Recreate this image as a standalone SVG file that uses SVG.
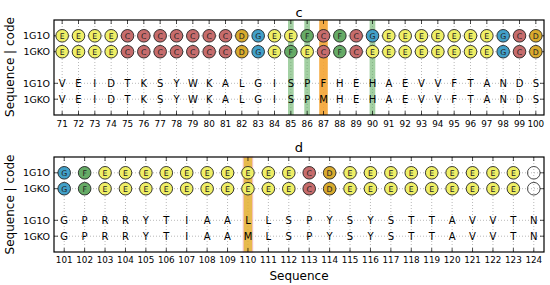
<svg xmlns="http://www.w3.org/2000/svg" width="550" height="285" viewBox="0 0 550 285">
<style>
text{font-family:"DejaVu Sans",sans-serif;fill:#000}
.t{font-size:12px;text-anchor:middle}
.ti{font-size:13px;text-anchor:middle}
.tk{font-size:8.8px;text-anchor:middle}
.yl{font-size:9.5px;text-anchor:end}
.sq{font-size:10px;text-anchor:middle}
.cl{font-size:7.8px;text-anchor:middle;fill:#222}
.grid{stroke:#8a8a8a;stroke-width:0.6;stroke-dasharray:1 2;fill:none}
.tick{stroke:#000;stroke-width:0.7;fill:none}
.spine{fill:none;stroke:#000;stroke-width:1.2}
circle{stroke:#222;stroke-width:0.9}
.E{fill:#efef66}.C{fill:#c66c6c}.D{fill:#d9ab2e}.G{fill:#42a0c8}.F{fill:#66ab66}.N{fill:none;stroke:#333}
.gb{fill:#66b066;opacity:0.6}
.ob{fill:#f4a433;opacity:0.9}
.yb{fill:#e3ae2e;opacity:0.85;stroke:#f6b7c4;stroke-width:1}
</style>

<text class="t" x="10" y="67" transform="rotate(-90 10 67)" dominant-baseline="central">Sequence | code</text>
<text class="t" x="10" y="204.5" transform="rotate(-90 10 204.5)" dominant-baseline="central">Sequence | code</text>

<!-- ============ Panel c ============ -->
<g id="panel-c">
<text class="ti" x="299" y="16.5">c</text>
<g id="c-grid" class="grid">
<path d="M62.17 20V115M78.5 20V115M94.83 20V115M111.17 20V115M127.5 20V115M143.83 20V115M160.17 20V115M176.5 20V115M192.83 20V115M209.17 20V115M225.5 20V115M241.83 20V115M258.17 20V115M274.5 20V115M290.83 20V115M307.17 20V115M323.5 20V115M339.83 20V115M356.17 20V115M372.5 20V115M388.83 20V115M405.17 20V115M421.5 20V115M437.83 20V115M454.17 20V115M470.5 20V115M486.83 20V115M503.17 20V115M519.5 20V115M535.83 20V115"/>
<path d="M54 35.8H544M54 51.7H544M54 83.3H544M54 99.2H544"/>
</g>
<g id="c-bars">
<rect class="gb" x="288" y="20" width="5.7" height="95"/>
<rect class="gb" x="304.3" y="20" width="5.7" height="95"/>
<rect class="ob" x="319.2" y="20" width="8.6" height="95"/>
<rect class="gb" x="369.6" y="20" width="5.7" height="95"/>
</g>
<g id="c-ticks" class="tick">
<path d="M62.17 20v4M78.5 20v4M94.83 20v4M111.17 20v4M127.5 20v4M143.83 20v4M160.17 20v4M176.5 20v4M192.83 20v4M209.17 20v4M225.5 20v4M241.83 20v4M258.17 20v4M274.5 20v4M290.83 20v4M307.17 20v4M323.5 20v4M339.83 20v4M356.17 20v4M372.5 20v4M388.83 20v4M405.17 20v4M421.5 20v4M437.83 20v4M454.17 20v4M470.5 20v4M486.83 20v4M503.17 20v4M519.5 20v4M535.83 20v4"/>
<path d="M62.17 115v-4M78.5 115v-4M94.83 115v-4M111.17 115v-4M127.5 115v-4M143.83 115v-4M160.17 115v-4M176.5 115v-4M192.83 115v-4M209.17 115v-4M225.5 115v-4M241.83 115v-4M258.17 115v-4M274.5 115v-4M290.83 115v-4M307.17 115v-4M323.5 115v-4M339.83 115v-4M356.17 115v-4M372.5 115v-4M388.83 115v-4M405.17 115v-4M421.5 115v-4M437.83 115v-4M454.17 115v-4M470.5 115v-4M486.83 115v-4M503.17 115v-4M519.5 115v-4M535.83 115v-4"/>
<path d="M54 35.8h4M54 51.7h4M54 83.3h4M54 99.2h4M544 35.8h-4M544 51.7h-4M544 83.3h-4M544 99.2h-4"/>
</g>
<g id="c-ss-1G1O">
<circle class="E" cx="62.17" cy="35.8" r="6.3"/><text class="cl" x="62.17" y="38.6">E</text>
<circle class="E" cx="78.5" cy="35.8" r="6.3"/><text class="cl" x="78.5" y="38.6">E</text>
<circle class="E" cx="94.83" cy="35.8" r="6.3"/><text class="cl" x="94.83" y="38.6">E</text>
<circle class="E" cx="111.17" cy="35.8" r="6.3"/><text class="cl" x="111.17" y="38.6">E</text>
<circle class="C" cx="127.5" cy="35.8" r="6.3"/><text class="cl" x="127.5" y="38.6">C</text>
<circle class="C" cx="143.83" cy="35.8" r="6.3"/><text class="cl" x="143.83" y="38.6">C</text>
<circle class="C" cx="160.17" cy="35.8" r="6.3"/><text class="cl" x="160.17" y="38.6">C</text>
<circle class="C" cx="176.5" cy="35.8" r="6.3"/><text class="cl" x="176.5" y="38.6">C</text>
<circle class="C" cx="192.83" cy="35.8" r="6.3"/><text class="cl" x="192.83" y="38.6">C</text>
<circle class="C" cx="209.17" cy="35.8" r="6.3"/><text class="cl" x="209.17" y="38.6">C</text>
<circle class="C" cx="225.5" cy="35.8" r="6.3"/><text class="cl" x="225.5" y="38.6">C</text>
<circle class="D" cx="241.83" cy="35.8" r="6.3"/><text class="cl" x="241.83" y="38.6">D</text>
<circle class="G" cx="258.17" cy="35.8" r="6.3"/><text class="cl" x="258.17" y="38.6">G</text>
<circle class="E" cx="274.5" cy="35.8" r="6.3"/><text class="cl" x="274.5" y="38.6">E</text>
<circle class="E" cx="290.83" cy="35.8" r="6.3"/><text class="cl" x="290.83" y="38.6">E</text>
<circle class="F" cx="307.17" cy="35.8" r="6.3"/><text class="cl" x="307.17" y="38.6">F</text>
<circle class="C" cx="323.5" cy="35.8" r="6.3"/><text class="cl" x="323.5" y="38.6">C</text>
<circle class="F" cx="339.83" cy="35.8" r="6.3"/><text class="cl" x="339.83" y="38.6">F</text>
<circle class="C" cx="356.17" cy="35.8" r="6.3"/><text class="cl" x="356.17" y="38.6">C</text>
<circle class="G" cx="372.5" cy="35.8" r="6.3"/><text class="cl" x="372.5" y="38.6">G</text>
<circle class="E" cx="388.83" cy="35.8" r="6.3"/><text class="cl" x="388.83" y="38.6">E</text>
<circle class="E" cx="405.17" cy="35.8" r="6.3"/><text class="cl" x="405.17" y="38.6">E</text>
<circle class="E" cx="421.5" cy="35.8" r="6.3"/><text class="cl" x="421.5" y="38.6">E</text>
<circle class="E" cx="437.83" cy="35.8" r="6.3"/><text class="cl" x="437.83" y="38.6">E</text>
<circle class="E" cx="454.17" cy="35.8" r="6.3"/><text class="cl" x="454.17" y="38.6">E</text>
<circle class="E" cx="470.5" cy="35.8" r="6.3"/><text class="cl" x="470.5" y="38.6">E</text>
<circle class="E" cx="486.83" cy="35.8" r="6.3"/><text class="cl" x="486.83" y="38.6">E</text>
<circle class="G" cx="503.17" cy="35.8" r="6.3"/><text class="cl" x="503.17" y="38.6">G</text>
<circle class="C" cx="519.5" cy="35.8" r="6.3"/><text class="cl" x="519.5" y="38.6">C</text>
<circle class="D" cx="535.83" cy="35.8" r="6.3"/><text class="cl" x="535.83" y="38.6">D</text>
</g>
<g id="c-ss-1GKO">
<circle class="E" cx="62.17" cy="51.7" r="6.3"/><text class="cl" x="62.17" y="54.5">E</text>
<circle class="E" cx="78.5" cy="51.7" r="6.3"/><text class="cl" x="78.5" y="54.5">E</text>
<circle class="E" cx="94.83" cy="51.7" r="6.3"/><text class="cl" x="94.83" y="54.5">E</text>
<circle class="E" cx="111.17" cy="51.7" r="6.3"/><text class="cl" x="111.17" y="54.5">E</text>
<circle class="C" cx="127.5" cy="51.7" r="6.3"/><text class="cl" x="127.5" y="54.5">C</text>
<circle class="C" cx="143.83" cy="51.7" r="6.3"/><text class="cl" x="143.83" y="54.5">C</text>
<circle class="C" cx="160.17" cy="51.7" r="6.3"/><text class="cl" x="160.17" y="54.5">C</text>
<circle class="C" cx="176.5" cy="51.7" r="6.3"/><text class="cl" x="176.5" y="54.5">C</text>
<circle class="C" cx="192.83" cy="51.7" r="6.3"/><text class="cl" x="192.83" y="54.5">C</text>
<circle class="C" cx="209.17" cy="51.7" r="6.3"/><text class="cl" x="209.17" y="54.5">C</text>
<circle class="C" cx="225.5" cy="51.7" r="6.3"/><text class="cl" x="225.5" y="54.5">C</text>
<circle class="D" cx="241.83" cy="51.7" r="6.3"/><text class="cl" x="241.83" y="54.5">D</text>
<circle class="G" cx="258.17" cy="51.7" r="6.3"/><text class="cl" x="258.17" y="54.5">G</text>
<circle class="E" cx="274.5" cy="51.7" r="6.3"/><text class="cl" x="274.5" y="54.5">E</text>
<circle class="F" cx="290.83" cy="51.7" r="6.3"/><text class="cl" x="290.83" y="54.5">F</text>
<circle class="E" cx="307.17" cy="51.7" r="6.3"/><text class="cl" x="307.17" y="54.5">E</text>
<circle class="C" cx="323.5" cy="51.7" r="6.3"/><text class="cl" x="323.5" y="54.5">C</text>
<circle class="F" cx="339.83" cy="51.7" r="6.3"/><text class="cl" x="339.83" y="54.5">F</text>
<circle class="C" cx="356.17" cy="51.7" r="6.3"/><text class="cl" x="356.17" y="54.5">C</text>
<circle class="E" cx="372.5" cy="51.7" r="6.3"/><text class="cl" x="372.5" y="54.5">E</text>
<circle class="E" cx="388.83" cy="51.7" r="6.3"/><text class="cl" x="388.83" y="54.5">E</text>
<circle class="E" cx="405.17" cy="51.7" r="6.3"/><text class="cl" x="405.17" y="54.5">E</text>
<circle class="E" cx="421.5" cy="51.7" r="6.3"/><text class="cl" x="421.5" y="54.5">E</text>
<circle class="E" cx="437.83" cy="51.7" r="6.3"/><text class="cl" x="437.83" y="54.5">E</text>
<circle class="E" cx="454.17" cy="51.7" r="6.3"/><text class="cl" x="454.17" y="54.5">E</text>
<circle class="E" cx="470.5" cy="51.7" r="6.3"/><text class="cl" x="470.5" y="54.5">E</text>
<circle class="E" cx="486.83" cy="51.7" r="6.3"/><text class="cl" x="486.83" y="54.5">E</text>
<circle class="G" cx="503.17" cy="51.7" r="6.3"/><text class="cl" x="503.17" y="54.5">G</text>
<circle class="C" cx="519.5" cy="51.7" r="6.3"/><text class="cl" x="519.5" y="54.5">C</text>
<circle class="D" cx="535.83" cy="51.7" r="6.3"/><text class="cl" x="535.83" y="54.5">D</text>
</g>
<g id="c-seq-1G1O">
<text class="sq" x="62.17" y="86.9">V</text><text class="sq" x="78.5" y="86.9">E</text><text class="sq" x="94.83" y="86.9">I</text><text class="sq" x="111.17" y="86.9">D</text><text class="sq" x="127.5" y="86.9">T</text><text class="sq" x="143.83" y="86.9">K</text><text class="sq" x="160.17" y="86.9">S</text><text class="sq" x="176.5" y="86.9">Y</text><text class="sq" x="192.83" y="86.9">W</text><text class="sq" x="209.17" y="86.9">K</text><text class="sq" x="225.5" y="86.9">A</text><text class="sq" x="241.83" y="86.9">L</text><text class="sq" x="258.17" y="86.9">G</text><text class="sq" x="274.5" y="86.9">I</text><text class="sq" x="290.83" y="86.9">S</text><text class="sq" x="307.17" y="86.9">P</text><text class="sq" x="323.5" y="86.9">F</text><text class="sq" x="339.83" y="86.9">H</text><text class="sq" x="356.17" y="86.9">E</text><text class="sq" x="372.5" y="86.9">H</text><text class="sq" x="388.83" y="86.9">A</text><text class="sq" x="405.17" y="86.9">E</text><text class="sq" x="421.5" y="86.9">V</text><text class="sq" x="437.83" y="86.9">V</text><text class="sq" x="454.17" y="86.9">F</text><text class="sq" x="470.5" y="86.9">T</text><text class="sq" x="486.83" y="86.9">A</text><text class="sq" x="503.17" y="86.9">N</text><text class="sq" x="519.5" y="86.9">D</text><text class="sq" x="535.83" y="86.9">S</text>
</g>
<g id="c-seq-1GKO">
<text class="sq" x="62.17" y="102.8">V</text><text class="sq" x="78.5" y="102.8">E</text><text class="sq" x="94.83" y="102.8">I</text><text class="sq" x="111.17" y="102.8">D</text><text class="sq" x="127.5" y="102.8">T</text><text class="sq" x="143.83" y="102.8">K</text><text class="sq" x="160.17" y="102.8">S</text><text class="sq" x="176.5" y="102.8">Y</text><text class="sq" x="192.83" y="102.8">W</text><text class="sq" x="209.17" y="102.8">K</text><text class="sq" x="225.5" y="102.8">A</text><text class="sq" x="241.83" y="102.8">L</text><text class="sq" x="258.17" y="102.8">G</text><text class="sq" x="274.5" y="102.8">I</text><text class="sq" x="290.83" y="102.8">S</text><text class="sq" x="307.17" y="102.8">P</text><text class="sq" x="323.5" y="102.8">M</text><text class="sq" x="339.83" y="102.8">H</text><text class="sq" x="356.17" y="102.8">E</text><text class="sq" x="372.5" y="102.8">H</text><text class="sq" x="388.83" y="102.8">A</text><text class="sq" x="405.17" y="102.8">E</text><text class="sq" x="421.5" y="102.8">V</text><text class="sq" x="437.83" y="102.8">V</text><text class="sq" x="454.17" y="102.8">F</text><text class="sq" x="470.5" y="102.8">T</text><text class="sq" x="486.83" y="102.8">A</text><text class="sq" x="503.17" y="102.8">N</text><text class="sq" x="519.5" y="102.8">D</text><text class="sq" x="535.83" y="102.8">S</text>
</g>
<rect class="spine" x="54" y="20" width="490" height="95"/>
<g id="c-ylabels">
<text class="yl" x="50" y="39.3">1G1O</text><text class="yl" x="50" y="55.2">1GKO</text><text class="yl" x="50" y="86.8">1G1O</text><text class="yl" x="50" y="102.7">1GKO</text>
</g>
<g id="c-xlabels">
<text class="tk" x="62.17" y="127">71</text><text class="tk" x="78.5" y="127">72</text><text class="tk" x="94.83" y="127">73</text><text class="tk" x="111.17" y="127">74</text><text class="tk" x="127.5" y="127">75</text><text class="tk" x="143.83" y="127">76</text><text class="tk" x="160.17" y="127">77</text><text class="tk" x="176.5" y="127">78</text><text class="tk" x="192.83" y="127">79</text><text class="tk" x="209.17" y="127">80</text><text class="tk" x="225.5" y="127">81</text><text class="tk" x="241.83" y="127">82</text><text class="tk" x="258.17" y="127">83</text><text class="tk" x="274.5" y="127">84</text><text class="tk" x="290.83" y="127">85</text><text class="tk" x="307.17" y="127">86</text><text class="tk" x="323.5" y="127">87</text><text class="tk" x="339.83" y="127">88</text><text class="tk" x="356.17" y="127">89</text><text class="tk" x="372.5" y="127">90</text><text class="tk" x="388.83" y="127">91</text><text class="tk" x="405.17" y="127">92</text><text class="tk" x="421.5" y="127">93</text><text class="tk" x="437.83" y="127">94</text><text class="tk" x="454.17" y="127">95</text><text class="tk" x="470.5" y="127">96</text><text class="tk" x="486.83" y="127">97</text><text class="tk" x="503.17" y="127">98</text><text class="tk" x="519.5" y="127">99</text><text class="tk" x="535.83" y="127">100</text>
</g>
</g>

<!-- ============ Panel d ============ -->
<g id="panel-d">
<text class="ti" x="299" y="151.5">d</text>
<g id="d-grid" class="grid">
<path d="M64.21 157V252M84.63 157V252M105.04 157V252M125.46 157V252M145.88 157V252M166.29 157V252M186.71 157V252M207.13 157V252M227.54 157V252M247.96 157V252M268.38 157V252M288.79 157V252M309.21 157V252M329.63 157V252M350.04 157V252M370.46 157V252M390.88 157V252M411.29 157V252M431.71 157V252M452.13 157V252M472.54 157V252M492.96 157V252M513.38 157V252M533.79 157V252"/>
<path d="M54 172.8H544M54 188.7H544M54 220.3H544M54 236.2H544"/>
</g>
<g id="d-bars">
<rect class="yb" x="243.2" y="157" width="9.5" height="95"/>
</g>
<g id="d-ticks" class="tick">
<path d="M64.21 157v4M84.63 157v4M105.04 157v4M125.46 157v4M145.88 157v4M166.29 157v4M186.71 157v4M207.13 157v4M227.54 157v4M247.96 157v4M268.38 157v4M288.79 157v4M309.21 157v4M329.63 157v4M350.04 157v4M370.46 157v4M390.88 157v4M411.29 157v4M431.71 157v4M452.13 157v4M472.54 157v4M492.96 157v4M513.38 157v4M533.79 157v4"/>
<path d="M64.21 252v-4M84.63 252v-4M105.04 252v-4M125.46 252v-4M145.88 252v-4M166.29 252v-4M186.71 252v-4M207.13 252v-4M227.54 252v-4M247.96 252v-4M268.38 252v-4M288.79 252v-4M309.21 252v-4M329.63 252v-4M350.04 252v-4M370.46 252v-4M390.88 252v-4M411.29 252v-4M431.71 252v-4M452.13 252v-4M472.54 252v-4M492.96 252v-4M513.38 252v-4M533.79 252v-4"/>
<path d="M54 172.8h4M54 188.7h4M54 220.3h4M54 236.2h4M544 172.8h-4M544 188.7h-4M544 220.3h-4M544 236.2h-4"/>
</g>
<g id="d-ss-1G1O">
<circle class="G" cx="64.21" cy="172.8" r="6.3"/><text class="cl" x="64.21" y="175.6">G</text>
<circle class="F" cx="84.63" cy="172.8" r="6.3"/><text class="cl" x="84.63" y="175.6">F</text>
<circle class="E" cx="105.04" cy="172.8" r="6.3"/><text class="cl" x="105.04" y="175.6">E</text>
<circle class="E" cx="125.46" cy="172.8" r="6.3"/><text class="cl" x="125.46" y="175.6">E</text>
<circle class="E" cx="145.88" cy="172.8" r="6.3"/><text class="cl" x="145.88" y="175.6">E</text>
<circle class="E" cx="166.29" cy="172.8" r="6.3"/><text class="cl" x="166.29" y="175.6">E</text>
<circle class="E" cx="186.71" cy="172.8" r="6.3"/><text class="cl" x="186.71" y="175.6">E</text>
<circle class="E" cx="207.13" cy="172.8" r="6.3"/><text class="cl" x="207.13" y="175.6">E</text>
<circle class="E" cx="227.54" cy="172.8" r="6.3"/><text class="cl" x="227.54" y="175.6">E</text>
<circle class="E" cx="247.96" cy="172.8" r="6.3"/><text class="cl" x="247.96" y="175.6">E</text>
<circle class="E" cx="268.38" cy="172.8" r="6.3"/><text class="cl" x="268.38" y="175.6">E</text>
<circle class="E" cx="288.79" cy="172.8" r="6.3"/><text class="cl" x="288.79" y="175.6">E</text>
<circle class="C" cx="309.21" cy="172.8" r="6.3"/><text class="cl" x="309.21" y="175.6">C</text>
<circle class="D" cx="329.63" cy="172.8" r="6.3"/><text class="cl" x="329.63" y="175.6">D</text>
<circle class="E" cx="350.04" cy="172.8" r="6.3"/><text class="cl" x="350.04" y="175.6">E</text>
<circle class="E" cx="370.46" cy="172.8" r="6.3"/><text class="cl" x="370.46" y="175.6">E</text>
<circle class="E" cx="390.88" cy="172.8" r="6.3"/><text class="cl" x="390.88" y="175.6">E</text>
<circle class="E" cx="411.29" cy="172.8" r="6.3"/><text class="cl" x="411.29" y="175.6">E</text>
<circle class="E" cx="431.71" cy="172.8" r="6.3"/><text class="cl" x="431.71" y="175.6">E</text>
<circle class="E" cx="452.13" cy="172.8" r="6.3"/><text class="cl" x="452.13" y="175.6">E</text>
<circle class="E" cx="472.54" cy="172.8" r="6.3"/><text class="cl" x="472.54" y="175.6">E</text>
<circle class="E" cx="492.96" cy="172.8" r="6.3"/><text class="cl" x="492.96" y="175.6">E</text>
<circle class="E" cx="513.38" cy="172.8" r="6.3"/><text class="cl" x="513.38" y="175.6">E</text>
<circle class="N" cx="533.79" cy="172.8" r="6.3"/>
</g>
<g id="d-ss-1GKO">
<circle class="G" cx="64.21" cy="188.7" r="6.3"/><text class="cl" x="64.21" y="191.5">G</text>
<circle class="F" cx="84.63" cy="188.7" r="6.3"/><text class="cl" x="84.63" y="191.5">F</text>
<circle class="E" cx="105.04" cy="188.7" r="6.3"/><text class="cl" x="105.04" y="191.5">E</text>
<circle class="E" cx="125.46" cy="188.7" r="6.3"/><text class="cl" x="125.46" y="191.5">E</text>
<circle class="E" cx="145.88" cy="188.7" r="6.3"/><text class="cl" x="145.88" y="191.5">E</text>
<circle class="E" cx="166.29" cy="188.7" r="6.3"/><text class="cl" x="166.29" y="191.5">E</text>
<circle class="E" cx="186.71" cy="188.7" r="6.3"/><text class="cl" x="186.71" y="191.5">E</text>
<circle class="E" cx="207.13" cy="188.7" r="6.3"/><text class="cl" x="207.13" y="191.5">E</text>
<circle class="E" cx="227.54" cy="188.7" r="6.3"/><text class="cl" x="227.54" y="191.5">E</text>
<circle class="E" cx="247.96" cy="188.7" r="6.3"/><text class="cl" x="247.96" y="191.5">E</text>
<circle class="E" cx="268.38" cy="188.7" r="6.3"/><text class="cl" x="268.38" y="191.5">E</text>
<circle class="E" cx="288.79" cy="188.7" r="6.3"/><text class="cl" x="288.79" y="191.5">E</text>
<circle class="C" cx="309.21" cy="188.7" r="6.3"/><text class="cl" x="309.21" y="191.5">C</text>
<circle class="D" cx="329.63" cy="188.7" r="6.3"/><text class="cl" x="329.63" y="191.5">D</text>
<circle class="E" cx="350.04" cy="188.7" r="6.3"/><text class="cl" x="350.04" y="191.5">E</text>
<circle class="E" cx="370.46" cy="188.7" r="6.3"/><text class="cl" x="370.46" y="191.5">E</text>
<circle class="E" cx="390.88" cy="188.7" r="6.3"/><text class="cl" x="390.88" y="191.5">E</text>
<circle class="E" cx="411.29" cy="188.7" r="6.3"/><text class="cl" x="411.29" y="191.5">E</text>
<circle class="E" cx="431.71" cy="188.7" r="6.3"/><text class="cl" x="431.71" y="191.5">E</text>
<circle class="E" cx="452.13" cy="188.7" r="6.3"/><text class="cl" x="452.13" y="191.5">E</text>
<circle class="E" cx="472.54" cy="188.7" r="6.3"/><text class="cl" x="472.54" y="191.5">E</text>
<circle class="E" cx="492.96" cy="188.7" r="6.3"/><text class="cl" x="492.96" y="191.5">E</text>
<circle class="E" cx="513.38" cy="188.7" r="6.3"/><text class="cl" x="513.38" y="191.5">E</text>
<circle class="N" cx="533.79" cy="188.7" r="6.3"/>
</g>
<g id="d-seq-1G1O">
<text class="sq" x="64.21" y="223.9">G</text><text class="sq" x="84.63" y="223.9">P</text><text class="sq" x="105.04" y="223.9">R</text><text class="sq" x="125.46" y="223.9">R</text><text class="sq" x="145.88" y="223.9">Y</text><text class="sq" x="166.29" y="223.9">T</text><text class="sq" x="186.71" y="223.9">I</text><text class="sq" x="207.13" y="223.9">A</text><text class="sq" x="227.54" y="223.9">A</text><text class="sq" x="247.96" y="223.9">L</text><text class="sq" x="268.38" y="223.9">L</text><text class="sq" x="288.79" y="223.9">S</text><text class="sq" x="309.21" y="223.9">P</text><text class="sq" x="329.63" y="223.9">Y</text><text class="sq" x="350.04" y="223.9">S</text><text class="sq" x="370.46" y="223.9">Y</text><text class="sq" x="390.88" y="223.9">S</text><text class="sq" x="411.29" y="223.9">T</text><text class="sq" x="431.71" y="223.9">T</text><text class="sq" x="452.13" y="223.9">A</text><text class="sq" x="472.54" y="223.9">V</text><text class="sq" x="492.96" y="223.9">V</text><text class="sq" x="513.38" y="223.9">T</text><text class="sq" x="533.79" y="223.9">N</text>
</g>
<g id="d-seq-1GKO">
<text class="sq" x="64.21" y="239.8">G</text><text class="sq" x="84.63" y="239.8">P</text><text class="sq" x="105.04" y="239.8">R</text><text class="sq" x="125.46" y="239.8">R</text><text class="sq" x="145.88" y="239.8">Y</text><text class="sq" x="166.29" y="239.8">T</text><text class="sq" x="186.71" y="239.8">I</text><text class="sq" x="207.13" y="239.8">A</text><text class="sq" x="227.54" y="239.8">A</text><text class="sq" x="247.96" y="239.8">M</text><text class="sq" x="268.38" y="239.8">L</text><text class="sq" x="288.79" y="239.8">S</text><text class="sq" x="309.21" y="239.8">P</text><text class="sq" x="329.63" y="239.8">Y</text><text class="sq" x="350.04" y="239.8">S</text><text class="sq" x="370.46" y="239.8">Y</text><text class="sq" x="390.88" y="239.8">S</text><text class="sq" x="411.29" y="239.8">T</text><text class="sq" x="431.71" y="239.8">T</text><text class="sq" x="452.13" y="239.8">A</text><text class="sq" x="472.54" y="239.8">V</text><text class="sq" x="492.96" y="239.8">V</text><text class="sq" x="513.38" y="239.8">T</text><text class="sq" x="533.79" y="239.8">N</text>
</g>
<rect class="spine" x="54" y="157" width="490" height="95"/>
<g id="d-ylabels">
<text class="yl" x="50" y="176.3">1G1O</text><text class="yl" x="50" y="192.2">1GKO</text><text class="yl" x="50" y="223.8">1G1O</text><text class="yl" x="50" y="239.7">1GKO</text>
</g>
<g id="d-xlabels">
<text class="tk" x="64.21" y="262.5">101</text><text class="tk" x="84.63" y="262.5">102</text><text class="tk" x="105.04" y="262.5">103</text><text class="tk" x="125.46" y="262.5">104</text><text class="tk" x="145.88" y="262.5">105</text><text class="tk" x="166.29" y="262.5">106</text><text class="tk" x="186.71" y="262.5">107</text><text class="tk" x="207.13" y="262.5">108</text><text class="tk" x="227.54" y="262.5">109</text><text class="tk" x="247.96" y="262.5">110</text><text class="tk" x="268.38" y="262.5">111</text><text class="tk" x="288.79" y="262.5">112</text><text class="tk" x="309.21" y="262.5">113</text><text class="tk" x="329.63" y="262.5">114</text><text class="tk" x="350.04" y="262.5">115</text><text class="tk" x="370.46" y="262.5">116</text><text class="tk" x="390.88" y="262.5">117</text><text class="tk" x="411.29" y="262.5">118</text><text class="tk" x="431.71" y="262.5">119</text><text class="tk" x="452.13" y="262.5">120</text><text class="tk" x="472.54" y="262.5">121</text><text class="tk" x="492.96" y="262.5">122</text><text class="tk" x="513.38" y="262.5">123</text><text class="tk" x="533.79" y="262.5">124</text>
</g>
<text class="t" x="299" y="279.5">Sequence</text>
</g>
</svg>
